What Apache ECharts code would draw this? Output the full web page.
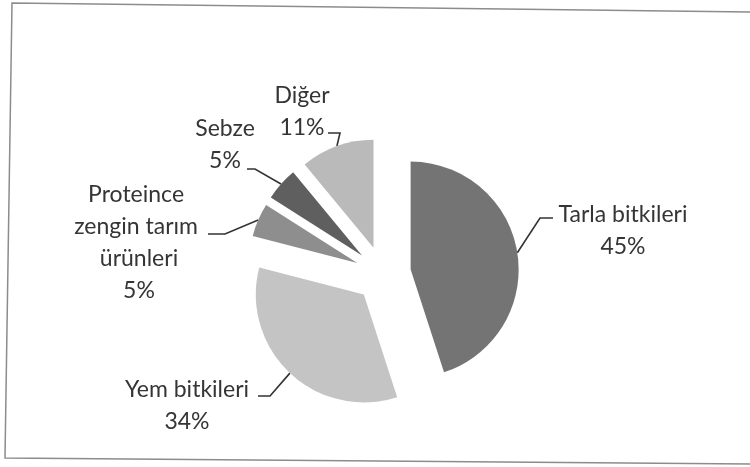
<!DOCTYPE html>
<html>
<head>
<meta charset="utf-8">
<script src="https://cdn.jsdelivr.net/npm/echarts@6/dist/echarts.min.js"></script>
<style>
  html, body { margin: 0; padding: 0; background: #ffffff; }
  #chart { width: 750px; height: 467px; }
</style>
</head>
<body>
<div id="chart"></div>
<script>
// ---- data ----
const categories = ['Tarla bitkileri', 'Yem bitkileri', 'Proteince zengin tarım ürünleri', 'Sebze', 'Diğer'];
const values = [45, 34, 5, 5, 11];

// ---- styles / layout ----
const colors = ['#747474', '#c4c4c4', '#8e8e8e', '#5f5f5f', '#bababa'];
const PIE = { cx: 383, cy: 274, r: 108, explode: 28 };
const FONT = { family: 'Lato', size: 23, lineHeight: 32, color: '#353535' };
// label block centre, leader elbow and leader end (annotation layout)
const LABEL_LAYOUT = [
  { x: 623, y: 231, elbow: [540, 218], end: [553, 218] },
  { x: 187, y: 406, elbow: [270, 396], end: [258, 396] },
  { x: 139, y: 243, elbow: [225, 234], end: [208, 234], width: 150 },
  { x: 225, y: 145, elbow: [255, 169], end: [247, 169] },
  { x: 302, y: 112, elbow: [340, 133], end: [328, 133] }
];

const total = values.reduce((a, b) => a + b, 0);
let cum = 0;
const mids = values.map(v => { const m = (cum + v / 2) / total * 2 * Math.PI; cum += v; return m; });

const series = categories.map((name, i) => {
  const mid = mids[i];
  const cx = PIE.cx + PIE.explode * Math.sin(mid);
  const cy = PIE.cy - PIE.explode * Math.cos(mid);
  const anchor = [cx + PIE.r * Math.sin(mid), cy - PIE.r * Math.cos(mid)];
  const L = LABEL_LAYOUT[i];
  return {
    type: 'pie',
    center: [cx, cy],
    radius: PIE.r,
    startAngle: 90,
    clockwise: true,
    avoidLabelOverlap: false,
    animation: false,
    silent: true,
    label: {
      position: 'outside',
      formatter: '{b}\n{d}%',
      fontFamily: FONT.family,
      fontSize: FONT.size,
      lineHeight: FONT.lineHeight,
      color: FONT.color,
      overflow: 'break'
    },
    labelLine: { lineStyle: { color: '#333333', width: 1.6 } },
    labelLayout: function (p) {
      if (p.dataIndex !== i) return {};
      const o = {
        x: L.x, y: L.y, align: 'center', verticalAlign: 'middle',
        labelLinePoints: [anchor, L.elbow, L.end]
      };
      if (L.width) o.width = L.width;
      return o;
    },
    data: categories.map((n, j) => ({
      name: n,
      value: values[j],
      itemStyle: j === i ? { color: colors[j] } : { color: 'rgba(0,0,0,0)', opacity: 0 },
      label: { show: j === i },
      labelLine: { show: j === i }
    }))
  };
});

const chart = echarts.init(document.getElementById('chart'), null, { renderer: 'canvas' });
chart.setOption({
  backgroundColor: '#ffffff',
  graphic: [{
    type: 'polygon',
    silent: true,
    shape: { points: [[12, 3], [752, 12], [752, 464], [5, 458]] },
    style: { fill: 'none', stroke: '#8c8c8c', lineWidth: 1.5 }
  }],
  series: series
});
</script>
</body>
</html>
